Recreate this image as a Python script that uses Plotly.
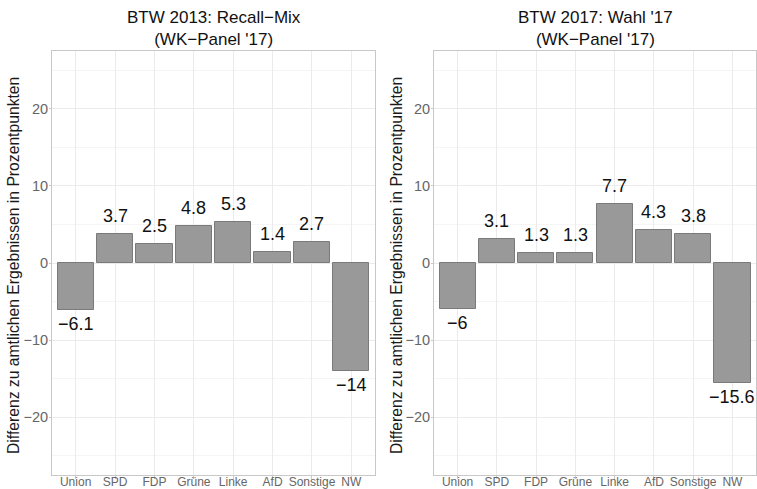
import plotly.graph_objects as go

parties = ["Union", "SPD", "FDP", "Grüne", "Linke", "AfD", "Sonstige", "NW"]
diff_2013 = [-6.1, 3.7, 2.5, 4.8, 5.3, 1.4, 2.7, -14]
diff_2017 = [-6, 3.1, 1.3, 1.3, 7.7, 4.3, 3.8, -15.6]
titles = ["BTW 2013: Recall\u2212Mix<br>(WK\u2212Panel '17)",
          "BTW 2017: Wahl '17<br>(WK\u2212Panel '17)"]
y_title = "Differenz zu amtlichen Ergebnissen in Prozentpunkten"
y_ticks = [-20, -10, 0, 10, 20]
y_ticktext = ["\u221220", "\u221210", "0", "10", "20"]

W, H = 757, 489
ML, MR, MT, MB = 0, 0, 51, 14
FONT = "Liberation Sans, Arial, sans-serif"

def px_x(p):
    return (p - ML) / (W - ML - MR)

def px_y(p):
    return (H - MB - p) / (H - MT - MB)

domains = [[px_x(52), px_x(375)], [px_x(434), px_x(756)]]

fig = go.Figure()
annotations = []
for i, vals in enumerate([diff_2013, diff_2017]):
    xa = "x" if i == 0 else "x2"
    ya = "y" if i == 0 else "y2"
    fig.add_trace(go.Bar(
        x=parties, y=vals, xaxis=xa, yaxis=ya, width=0.92,
        marker=dict(color="#999999", line=dict(color="#7A7A7A", width=1)),
        showlegend=False, hoverinfo="x+y"))
    for p, v in zip(parties, vals):
        txt = f"{v:g}".replace("-", "\u2212")
        annotations.append(dict(
            x=p, y=v, xref=xa, yref=ya, text=txt, showarrow=False,
            yanchor="bottom" if v >= 0 else "top",
            yshift=6 if v >= 0 else -2,
            font=dict(family=FONT, size=18, color="#111111")))
    cx = (domains[i][0] + domains[i][1]) / 2
    annotations.append(dict(x=cx, y=px_y(28.5), xref="paper", yref="paper",
                            text=titles[i], showarrow=False,
                            xanchor="center", yanchor="middle",
                            font=dict(family=FONT, size=17, color="#111111")))
    tx = 13 if i == 0 else 396
    annotations.append(dict(x=px_x(tx), y=px_y(266), xref="paper", yref="paper",
                            text=y_title, showarrow=False, textangle=-90,
                            xanchor="center", yanchor="middle",
                            font=dict(family=FONT, size=15.7, color="#1A1A1A")))

common_x = dict(type="category", range=[-0.6, 7.6], showgrid=True,
                gridcolor="#EBEBEB", gridwidth=1, showline=True, mirror=True,
                linecolor="#C8C8C8", linewidth=1, ticks="outside", ticklen=3,
                tickcolor="#C8C8C8", ticklabelstandoff=-7,
                tickfont=dict(family=FONT, size=12, color="#666666"),
                automargin=False, fixedrange=True)
common_y = dict(range=[-27.5, 27.5], tickvals=y_ticks, ticktext=y_ticktext,
                showgrid=True, gridcolor="#EBEBEB", gridwidth=1, zeroline=False,
                minor=dict(dtick=5, tick0=5, showgrid=True, gridcolor="#F5F5F5", gridwidth=1, ticks=""),
                showline=True, mirror=True, linecolor="#C8C8C8", linewidth=1,
                ticks="outside", ticklen=2, tickcolor="#C8C8C8",
                ticklabelstandoff=-2, ticklabeloverflow="allow",
                tickfont=dict(family=FONT, size=14.5, color="#666666"),
                automargin=False, fixedrange=True)

fig.update_layout(
    width=W, height=H,
    margin=dict(l=ML, r=MR, t=MT, b=MB),
    paper_bgcolor="white", plot_bgcolor="white",
    xaxis=dict(domain=domains[0], anchor="y", **common_x),
    yaxis=dict(domain=[0, 1], anchor="x", **common_y),
    xaxis2=dict(domain=domains[1], anchor="y2", **common_x),
    yaxis2=dict(domain=[0, 1], anchor="x2", **common_y),
    annotations=annotations,
    bargap=0,
)

fig.write_html("out.html", config={"displayModeBar": False},
               post_script="document.body.style.margin='0';document.body.style.overflow='hidden';")
